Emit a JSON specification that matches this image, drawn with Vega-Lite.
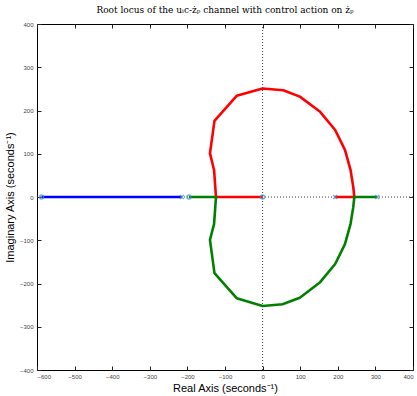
{
  "$schema": "https://vega.github.io/schema/vega-lite/v6.json",
  "width": 376,
  "height": 346,
  "autosize": {"type": "none"},
  "padding": {"left": 37, "top": 24, "right": 4, "bottom": 26},
  "background": "white",
  "title": {"text": "Root locus of the uᵢc-żₚ channel with control action on żₚ", "font": "DejaVu Serif", "fontSize": 9, "fontWeight": "normal", "color": "black", "offset": 6, "anchor": "middle"},
  "config": {
    "view": {"stroke": "black", "strokeWidth": 1},
    "axis": {"domain": false, "grid": false, "tickColor": "#222", "tickSize": -4, "labelFont": "Liberation Sans", "labelFontSize": 6, "labelColor": "#444", "titleFont": "Liberation Sans", "titleFontSize": 11, "titleFontWeight": "normal", "titleColor": "black"}
  },
  "datasets": {
    "loci": [
      {"branch": "red", "k": 0, "re": 193, "im": 0},
      {"branch": "red", "k": 1, "re": 244, "im": 0},
      {"branch": "red", "k": 2, "re": 241, "im": 24},
      {"branch": "red", "k": 3, "re": 234, "im": 62},
      {"branch": "red", "k": 4, "re": 219, "im": 109},
      {"branch": "red", "k": 5, "re": 193, "im": 155},
      {"branch": "red", "k": 6, "re": 153, "im": 197},
      {"branch": "red", "k": 7, "re": 99, "im": 232},
      {"branch": "red", "k": 8, "re": 55, "im": 247},
      {"branch": "red", "k": 9, "re": 0, "im": 251},
      {"branch": "red", "k": 10, "re": -69, "im": 234},
      {"branch": "red", "k": 11, "re": -128, "im": 176},
      {"branch": "red", "k": 12, "re": -140, "im": 101},
      {"branch": "red", "k": 13, "re": -129, "im": 62},
      {"branch": "red", "k": 14, "re": -124, "im": 0},
      {"branch": "red", "k": 15, "re": 0, "im": 0},
      {"branch": "green", "k": 0, "re": 305, "im": 0},
      {"branch": "green", "k": 1, "re": 244, "im": 0},
      {"branch": "green", "k": 2, "re": 241, "im": -24},
      {"branch": "green", "k": 3, "re": 234, "im": -62},
      {"branch": "green", "k": 4, "re": 219, "im": -109},
      {"branch": "green", "k": 5, "re": 193, "im": -155},
      {"branch": "green", "k": 6, "re": 153, "im": -197},
      {"branch": "green", "k": 7, "re": 99, "im": -233},
      {"branch": "green", "k": 8, "re": 53, "im": -248},
      {"branch": "green", "k": 9, "re": 0, "im": -252},
      {"branch": "green", "k": 10, "re": -69, "im": -234},
      {"branch": "green", "k": 11, "re": -128, "im": -176},
      {"branch": "green", "k": 12, "re": -140, "im": -99},
      {"branch": "green", "k": 13, "re": -129, "im": -62},
      {"branch": "green", "k": 14, "re": -124, "im": 0},
      {"branch": "green", "k": 15, "re": -196, "im": 0},
      {"branch": "blue", "k": 0, "re": -588, "im": 0},
      {"branch": "blue", "k": 1, "re": -215, "im": 0}
    ],
    "markers": [
      {"kind": "zero", "re": 0, "im": 0},
      {"kind": "zero", "re": -196, "im": 0},
      {"kind": "zero", "re": -588, "im": 0},
      {"kind": "pole", "re": 193, "im": 0},
      {"kind": "pole", "re": 305, "im": 0},
      {"kind": "pole", "re": -215, "im": 0}
    ]
  },
  "layer": [
    {
      "data": {"values": [{"im": 0}]},
      "mark": {"type": "rule", "color": "#444", "strokeDash": [1, 2], "strokeWidth": 1},
      "encoding": {
        "y": {"field": "im", "type": "quantitative", "axis": {"orient": "right", "labels": false, "title": null, "values": [-400, -300, -200, -100, 0, 100, 200, 300, 400]}}
      }
    },
    {
      "data": {"values": [{"re": 0}]},
      "mark": {"type": "rule", "color": "#444", "strokeDash": [1, 2], "strokeWidth": 1},
      "encoding": {
        "x": {"field": "re", "type": "quantitative", "axis": {"orient": "top", "labels": false, "title": null, "values": [-600, -500, -400, -300, -200, -100, 0, 100, 200, 300, 400]}}
      }
    },
    {
      "data": {"name": "loci"},
      "mark": {"type": "line", "strokeWidth": 2.6, "strokeJoin": "round"},
      "encoding": {
        "x": {"field": "re", "type": "quantitative", "scale": {"domain": [-600, 400], "nice": false, "zero": false}, "axis": {"orient": "bottom", "values": [-600, -500, -400, -300, -200, -100, 0, 100, 200, 300, 400], "labelPadding": 7, "titlePadding": 3, "title": "Real Axis (seconds⁻¹)"}},
        "y": {"field": "im", "type": "quantitative", "scale": {"domain": [-400, 400], "nice": false, "zero": false}, "axis": {"orient": "left", "values": [-400, -300, -200, -100, 0, 100, 200, 300, 400], "labelPadding": 8, "titlePadding": 4, "title": "Imaginary Axis (seconds⁻¹)"}},
        "color": {"field": "branch", "type": "nominal", "scale": {"domain": ["red", "green", "blue"], "range": ["#ff0000", "#008000", "#0000ff"]}, "legend": null},
        "order": {"field": "k", "type": "quantitative"},
        "detail": {"field": "branch"}
      }
    },
    {
      "data": {"name": "markers"},
      "mark": {"type": "point", "filled": false, "strokeWidth": 1.5, "size": 16, "color": "#3a8fd0"},
      "encoding": {
        "x": {"field": "re", "type": "quantitative", "axis": null},
        "y": {"field": "im", "type": "quantitative", "axis": null},
        "shape": {"field": "kind", "type": "nominal", "scale": {"domain": ["zero", "pole"], "range": ["circle", "M-1,-1L1,1M-1,1L1,-1"]}, "legend": null}
      }
    }
  ],
  "resolve": {"axis": {"x": "independent", "y": "independent"}}
}
